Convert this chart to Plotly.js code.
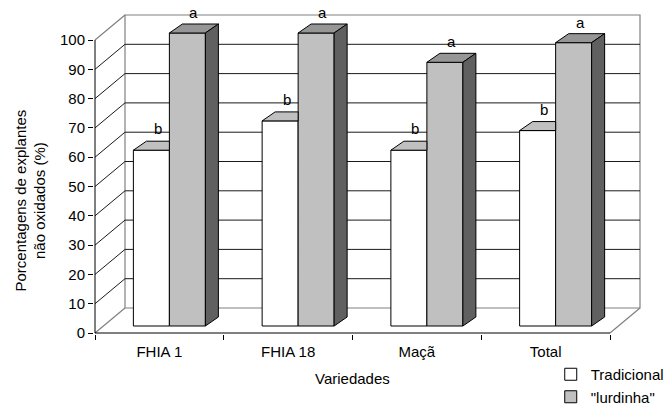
<!DOCTYPE html>
<html><head><meta charset="utf-8">
<script src="https://cdn.plot.ly/plotly-3.0.1.min.js"></script>
<style>html,body{margin:0;padding:0;background:#fff}#chart{width:671px;height:405px}</style>
</head><body><div id="chart"></div>
<script>
// ---- data ----
const categories = ['FHIA 1', 'FHIA 18', 'Maçã', 'Total'];
const tradicional = [60, 70, 60, 66.7];
const lurdinha = [100, 100, 90, 96.7];
const tradLetters = ['b', 'b', 'b', 'b'];
const lurdLetters = ['a', 'a', 'a', 'a'];
const seriesNames = ['Tradicional', '"lurdinha"'];
const yTickVals = [0, 10, 20, 30, 40, 50, 60, 70, 80, 90, 100];

// ---- pseudo-3D geometry (pixel offsets converted to axis units) ----
const KX = 128.75, KY = 2.93;          // px per x unit / per y unit
const wallDX = 30 / KX, wallDY = 25 / KY;
const barDX = 10 / KX, barDY = 7 / KY;
const depthDX = 13 / KX, depthDY = 9 / KY;
const barW = 36 / KX;
const FONT = 'Arial, "Liberation Sans", sans-serif';
const idx = categories.map((c, i) => i);
const xTrad = idx.map(i => i + barDX - barW / 2);
const xLurd = idx.map(i => i + barDX + barW / 2);
const yMax = yTickVals[yTickVals.length - 1];
const x0 = -0.5, x1 = categories.length - 0.5;

function poly(pts, xs, ys) { pts.forEach(p => { xs.push(p[0]); ys.push(p[1]); }); xs.push(pts[0][0]); ys.push(pts[0][1]); xs.push(null); ys.push(null); }

const tTopX = [], tTopY = [], lTopX = [], lTopY = [], lSideX = [], lSideY = [];
idx.forEach(i => {
  let xl = xTrad[i] - barW / 2, xr = xTrad[i] + barW / 2, t = barDY + tradicional[i];
  poly([[xl, t], [xr, t], [xr, t + depthDY], [xl + depthDX, t + depthDY]], tTopX, tTopY);
  xl = xLurd[i] - barW / 2; xr = xLurd[i] + barW / 2; t = barDY + lurdinha[i];
  poly([[xl, t], [xr, t], [xr + depthDX, t + depthDY], [xl + depthDX, t + depthDY]], lTopX, lTopY);
  poly([[xr, barDY], [xr, t], [xr + depthDX, t + depthDY], [xr + depthDX, barDY + depthDY]], lSideX, lSideY);
});

const edge = {color: '#000', width: 1};
const traces = [
  {type: 'bar', name: seriesNames[0], x: xTrad, y: tradicional, base: barDY, width: barW,
   marker: {color: '#ffffff', line: edge}, hoverinfo: 'skip'},
  {type: 'bar', name: seriesNames[1], x: xLurd, y: lurdinha, base: barDY, width: barW,
   marker: {color: '#c0c0c0', line: edge}, hoverinfo: 'skip'},
  {type: 'scatter', mode: 'lines', x: tTopX, y: tTopY, fill: 'toself', fillcolor: '#c0c0c0', line: edge, showlegend: false, hoverinfo: 'skip'},
  {type: 'scatter', mode: 'lines', x: lTopX, y: lTopY, fill: 'toself', fillcolor: '#969696', line: edge, showlegend: false, hoverinfo: 'skip'},
  {type: 'scatter', mode: 'lines', x: lSideX, y: lSideY, fill: 'toself', fillcolor: '#606060', line: edge, showlegend: false, hoverinfo: 'skip'}
];

// ---- walls & gridlines ----
const shapes = [];
const gray = {color: '#808080', width: 1.2};
const blk = {color: '#1a1a1a', width: 1};
shapes.push({type: 'rect', layer: 'below', x0: x0 + wallDX, x1: x1 + wallDX, y0: wallDY, y1: yMax + wallDY, line: gray});
yTickVals.forEach((v, k) => {
  const isEdge = (k === 0 || k === yTickVals.length - 1);
  shapes.push({type: 'line', layer: 'below', x0: x0, y0: v, x1: x0 + wallDX, y1: v + wallDY, line: isEdge ? gray : blk});
  if (!isEdge) shapes.push({type: 'line', layer: 'below', x0: x0 + wallDX, y0: v + wallDY, x1: x1 + wallDX, y1: v + wallDY, line: blk});
});
shapes.push({type: 'line', layer: 'below', x0: x1, y0: 0, x1: x1 + wallDX, y1: wallDY, line: gray});
shapes.push({type: 'line', layer: 'below', x0: x0, y0: 0, x1: x1, y1: 0, line: {color: '#000', width: 1}});
shapes.push({type: 'line', layer: 'below', x0: x0, y0: 0, x1: x0, y1: yMax, line: {color: '#000', width: 1}});

// ---- annotations ----
const annotations = [];
idx.forEach(i => {
  annotations.push({x: xTrad[i] + depthDX / 2, y: barDY + tradicional[i], text: tradLetters[i], showarrow: false, yanchor: 'bottom', yshift: 11, font: {family: FONT, size: 15, color: '#000'}});
  annotations.push({x: xLurd[i] + depthDX / 2, y: barDY + lurdinha[i], text: lurdLetters[i], showarrow: false, yanchor: 'bottom', yshift: 10, font: {family: FONT, size: 15, color: '#000'}});
});
annotations.push({xref: 'x', x: (x0 + x1) / 2, yref: 'paper', y: 0, yanchor: 'middle', yshift: -44, text: 'Variedades', showarrow: false, font: {family: FONT, size: 15, color: '#000'}});
annotations.push({xref: 'paper', x: 0, xanchor: 'center', xshift: -64, yref: 'y', y: yMax / 2, yanchor: 'middle', yshift: -14, textangle: -90,
  text: 'Porcentagens de explantes<br>não oxidados (%)', showarrow: false, font: {family: FONT, size: 15, color: '#000'}});

const layout = {
  width: 671, height: 405,
  margin: {l: 94, r: 30, t: 14, b: 71, autoexpand: false},
  paper_bgcolor: '#fff', plot_bgcolor: '#fff',
  barmode: 'overlay', bargap: 0,
  font: {family: FONT, size: 15, color: '#000'},
  showlegend: true,
  legend: {x: 0.835, xanchor: 'left', y: -0.075, yanchor: 'top', font: {family: FONT, size: 15, color: '#000'}, bgcolor: 'rgba(0,0,0,0)', tracegroupgap: 0},
  xaxis: {range: [x0 - 1 / KX, x1 + 31 / KX], tickmode: 'array', tickvals: idx, ticktext: categories,
    ticks: 'outside', ticklen: 0, tickcolor: 'rgba(0,0,0,0)', showgrid: false, zeroline: false, showline: false, fixedrange: true,
    ticklabelstandoff: 4, automargin: false,
    minor: {ticks: 'outside', ticklen: 5, tickcolor: '#000', tickwidth: 1, tickmode: 'linear', tick0: x0, dtick: 1, showgrid: false},
    tickfont: {family: FONT, size: 15, color: '#000'}},
  yaxis: {range: [-1 / KY, (334 - 14 - 1) / KY], tickmode: 'array', tickvals: yTickVals, automargin: false,
    ticks: 'outside', ticklen: 5, tickcolor: '#000', showgrid: false, zeroline: false, showline: false, fixedrange: true,
    tickfont: {family: FONT, size: 15, color: '#000'}},
  shapes: shapes,
  annotations: annotations
};

Plotly.newPlot('chart', traces, layout, {displayModeBar: false, staticPlot: true});
</script>
</body></html>
